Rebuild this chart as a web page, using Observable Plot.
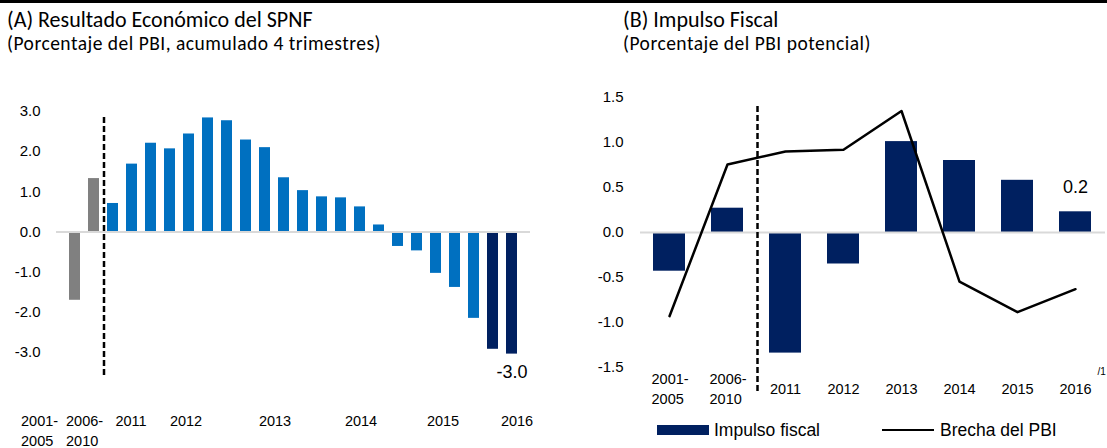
<!DOCTYPE html>
<html>
<head>
<meta charset="utf-8">
<script src="https://cdn.jsdelivr.net/npm/d3@7"></script>
<script src="https://cdn.jsdelivr.net/npm/@observablehq/plot@0.6"></script>
<style>
  body { margin:0; width:1107px; height:448px; position:relative; overflow:hidden; background:#fff; }
  .abs { position:absolute; white-space:nowrap; color:#000; }
  .title { font-family: Carlito, Calibri, Lato, sans-serif; font-size:22px; line-height:25px; }
  .sub { font-family: Carlito, Calibri, Lato, sans-serif; font-size:19.5px; line-height:21px; letter-spacing:0.5px; }
  .leg { font-family: "Liberation Sans", Arial, sans-serif; font-size:17.5px; line-height:20px; }
</style>
</head>
<body>
<div class="abs" style="left:0;top:0;width:1107px;height:3px;background:#000"></div>
<div class="abs title" style="left:7px;top:7px">(A) Resultado Económico del SPNF</div>
<div class="abs sub" style="left:7px;top:33px">(Porcentaje del PBI, acumulado 4 trimestres)</div>
<div class="abs title" style="left:623px;top:7px">(B) Impulso Fiscal</div>
<div class="abs sub" style="left:623px;top:33px">(Porcentaje del PBI potencial)</div>
<div id="chartA" class="abs" style="left:0;top:80px"></div>
<div id="chartB" class="abs" style="left:555px;top:80px"></div>
<div class="abs" style="left:657px;top:425px;width:52px;height:10px;background:#002060"></div>
<div class="abs leg" style="left:714px;top:420px">Impulso fiscal</div>
<div class="abs" style="left:882px;top:429px;width:52px;height:2px;background:#000"></div>
<div class="abs leg" style="left:940px;top:420px">Brecha del PBI</div>
<script>
// ---------- Panel A data ----------
const periodsA = [
  "2001-2005", "2006-2010",
  "I 2011", "II 2011", "III 2011", "IV 2011",
  "I 2012", "II 2012", "III 2012", "IV 2012",
  "I 2013", "II 2013", "III 2013", "IV 2013",
  "I 2014", "II 2014", "III 2014", "IV 2014",
  "I 2015", "II 2015", "III 2015", "IV 2015",
  "I 2016", "II 2016"
];
const valuesA = [
  -1.70, 1.33,
  0.71, 1.69, 2.21, 2.07,
  2.44, 2.84, 2.77, 2.29,
  2.10, 1.35, 1.03, 0.875,
  0.85, 0.625, 0.175, -0.36,
  -0.47, -1.03, -1.38, -2.15,
  -2.92, -3.04
];
const yTicksA = [-3, -2, -1, 0, 1, 2, 3];
const kindDomainA = ["Promedio", "Trimestral", "2016"];
const kindColorsA = ["#808080", "#0070C0", "#002060"];

// ---------- Panel B data ----------
const periodsB = ["2001-2005", "2006-2010", "2011", "2012", "2013", "2014", "2015", "2016"];
const impulsoB = [-0.43, 0.27, -1.34, -0.35, 1.01, 0.80, 0.58, 0.23];
const brechaB = [-0.93, 0.755, 0.90, 0.92, 1.35, -0.545, -0.885, -0.63];
const yTicksB = [-1.5, -1.0, -0.5, 0, 0.5, 1.0, 1.5];

const dataA = periodsA.map((p, i) => ({
  period: p, value: valuesA[i],
  kind: p.includes("-") ? "Promedio" : p.endsWith("2016") ? "2016" : "Trimestral"
}));
const dataB = periodsB.map((p, i) => ({period: p, impulso: impulsoB[i], brecha: brechaB[i]}));

const font = "'Liberation Sans', Arial, sans-serif";
const fmt = d => d.toFixed(1);
const histFmt = d => d.replace("-", "-\n");
const yearFmt = d => d.split(" ").pop();

const axA = (ticks, dx, extra = {}) => Plot.axisX(ticks, {
  tickSize: 0, tickPadding: 59, lineHeight: 1.4, fontSize: 14.5, dx, label: null,
  tickFormat: d => d.includes("-") ? histFmt(d) : yearFmt(d), ...extra
});

const chartA = Plot.plot({
  width: 555, height: 368,
  marginLeft: 56, marginRight: 25, marginTop: 31, marginBottom: 96,
  style: {fontFamily: font, fontSize: "15px", color: "#000", background: "transparent", overflow: "visible"},
  x: {domain: periodsA, paddingInner: 0.44, paddingOuter: 0.19, axis: null, label: null},
  y: {domain: [-3, 3], axis: null, label: null},
  color: {domain: kindDomainA, range: kindColorsA},
  marks: [
    Plot.barY(dataA, {x: "period", y: "value", fill: "kind"}),
    Plot.ruleY([0], {stroke: "#d9d9d9", strokeWidth: 2}),
    Plot.ruleX(["2006-2010"], {y1: 2.85, y2: -3.58, dx: 10, stroke: "#000", strokeWidth: 2.5, strokeDasharray: "6,3"}),
    Plot.axisY(yTicksA, {tickSize: 0, tickPadding: 16, tickFormat: fmt, fontSize: 15, label: null}),
    axA(["2001-2005"], -54, {textAnchor: "start"}),
    axA(["2006-2010"], -28, {textAnchor: "start"}),
    axA(["I 2011"], 18),
    axA(["I 2012"], -3),
    axA(["I 2013"], 10),
    axA(["I 2014"], 20),
    axA(["I 2015"], 26),
    axA(["I 2016"], 24),
    Plot.text(dataA.slice(-1), {x: "period", y: "value", text: d => fmt(d.value), dy: 18, fontSize: 18})
  ]
});
document.getElementById("chartA").append(chartA);

const chartB = Plot.plot({
  width: 552, height: 368,
  marginLeft: 85, marginRight: 2, marginTop: 17, marginBottom: 81,
  style: {fontFamily: font, fontSize: "15px", color: "#000", background: "transparent", overflow: "visible"},
  x: {domain: periodsB, paddingInner: 0.448, paddingOuter: 0.23, axis: null, label: null},
  y: {domain: [-1.5, 1.5], axis: null, label: null},
  marks: [
    Plot.barY(dataB, {x: "period", y: "impulso", fill: "#002060"}),
    Plot.ruleY([0], {stroke: "#d9d9d9", strokeWidth: 2}),
    Plot.ruleX(["2006-2010"], {y1: 1.4, y2: -1.78, dx: 30, stroke: "#000", strokeWidth: 2.5, strokeDasharray: "6,3"}),
    Plot.line(dataB, {x: "period", y: "brecha", stroke: "#000", strokeWidth: 2.5}),
    Plot.axisY(yTicksB, {tickSize: 0, tickPadding: 17, tickFormat: fmt, fontSize: 15, label: null}),
    Plot.axisX(periodsB.slice(0, 2), {tickSize: 0, tickPadding: 20, lineAnchor: "middle", lineHeight: 1.35,
      textAnchor: "start", dx: -18, fontSize: 14.5, tickFormat: histFmt, label: null}),
    Plot.axisX(periodsB.slice(2), {tickSize: 0, tickPadding: 22, lineAnchor: "middle", fontSize: 14.5,
      tickFormat: d => d, label: null}),
    Plot.text([{period: "2016", note: "/1"}], {x: "period", text: "note", frameAnchor: "bottom", dx: 22, dy: 7,
      textAnchor: "start", fontSize: 10}),
    Plot.text(dataB.slice(-1), {x: "period", y: "impulso", text: d => fmt(d.impulso), dy: -25, fontSize: 18})
  ]
});
document.getElementById("chartB").append(chartB);
</script>
</body>
</html>
